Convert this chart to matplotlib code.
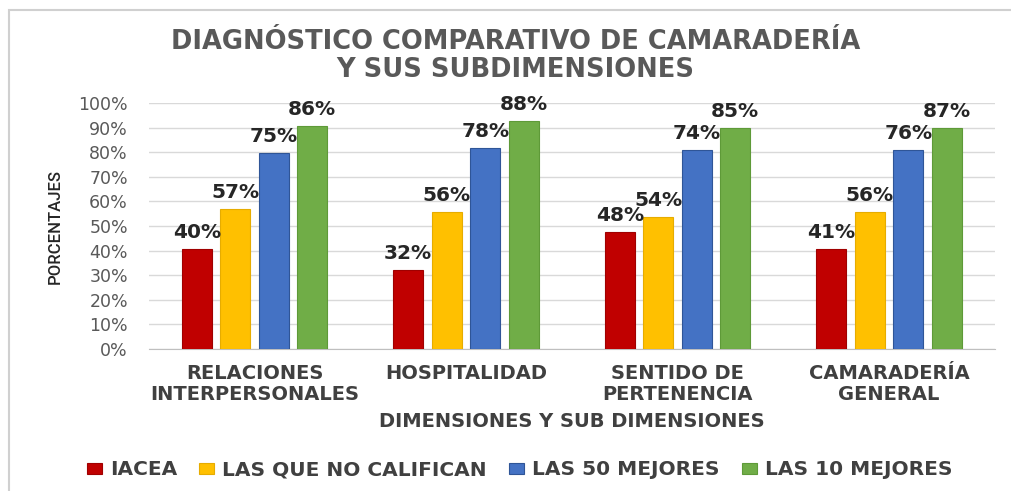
import numpy as np
import matplotlib
matplotlib.use('Agg')
import matplotlib.pyplot as plt
from matplotlib.patches import Rectangle

categorias = ['RELACIONES\nINTERPERSONALES', 'HOSPITALIDAD',
              'SENTIDO DE\nPERTENENCIA', 'CAMARADERÍA\nGENERAL']
series = ['IACEA', 'LAS QUE NO CALIFICAN', 'LAS 50 MEJORES', 'LAS 10 MEJORES']
# altura de las barras (tal como se ven) y etiquetas del gráfico original
iacea = [40.5, 32, 47.7, 40.7]
no_califican = [57, 55.6, 53.7, 55.7]
mejores50 = [79.8, 81.6, 80.8, 80.8]
mejores10 = [90.8, 92.7, 89.7, 89.7]
etq_iacea = ['40%', '32%', '48%', '41%']
etq_no_califican = ['57%', '56%', '54%', '56%']
etq_mejores50 = ['75%', '78%', '74%', '76%']
etq_mejores10 = ['86%', '88%', '85%', '87%']

colores = ['#C00000', '#FFC000', '#4472C4', '#70AD47']
bordes = ['#A00000', '#E6AC00', '#2F5597', '#5E9A38']

fig = plt.figure(figsize=(10.11, 4.91), dpi=100)
fig.patches.append(Rectangle((9 / 1011, -0.1), 1.1, 1 - 10 / 491 + 0.1,
                             transform=fig.transFigure, fill=False,
                             edgecolor='#d0d0d0', linewidth=1.5))

ax = fig.add_axes([0.1471, 0.2892, 0.8368, 0.501])
x = np.arange(len(categorias))
width = 0.142
paso = 0.182
valores = [iacea, no_califican, mejores50, mejores10]
etiquetas = [etq_iacea, etq_no_califican, etq_mejores50, etq_mejores10]
for i, (vals, etq) in enumerate(zip(valores, etiquetas)):
    rects = ax.bar(x + (i - 1.5) * paso, vals, width, color=colores[i],
                   edgecolor=bordes[i], linewidth=0.8, label=series[i], zorder=3)
    ax.bar_label(rects, labels=etq, padding=5, fontsize=14.5, fontweight='bold',
                 color='#262626', zorder=4)

ax.set_xlim(-0.5, 3.5)
ax.set_ylim(0, 100)
ax.set_yticks(np.arange(0, 101, 10))
ax.set_yticklabels([f'{v}%' for v in range(0, 101, 10)])
ax.tick_params(axis='y', length=0, labelsize=12.5, labelcolor='#595959', pad=15)
ax.set_xticks(x)
ax.set_xticklabels(categorias, fontsize=14, color='#404040', linespacing=1.1,
                   fontweight='bold')
ax.tick_params(axis='x', length=0, pad=11)
ax.grid(axis='y', color='#d9d9d9', linewidth=1, zorder=0)
for s in ['top', 'right', 'left']:
    ax.spines[s].set_visible(False)
ax.spines['bottom'].set_color('#bfbfbf')

ax.set_xlabel('DIMENSIONES Y SUB DIMENSIONES', fontsize=14, fontweight='bold',
              color='#404040', labelpad=6)
ax.set_ylabel('PORCENTAJES', fontsize=12, family=['Roboto', 'DejaVu Sans'],
              fontweight='medium', color='#262626', labelpad=11)

fig.text(0.51, 0.885, 'DIAGNÓSTICO COMPARATIVO DE CAMARADERÍA\nY SUS SUBDIMENSIONES',
         ha='center', va='center', fontsize=18.5, fontweight='bold',
         color='#595959', linespacing=1.1)

leg = fig.legend(loc='center', bbox_to_anchor=(0.514, 0.043), ncol=4, frameon=False,
                 prop={'size': 14.5, 'weight': 'bold'},
                 handlelength=0.75, handleheight=0.45, handletextpad=0.4,
                 columnspacing=1.1)
for t in leg.get_texts():
    t.set_color('#404040')

fig.savefig('out.png', dpi=100)
